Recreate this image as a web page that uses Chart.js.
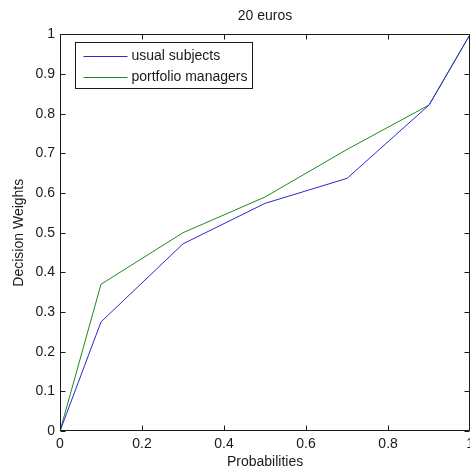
<!DOCTYPE html>
<html>
<head>
<meta charset="utf-8">
<script src="https://cdn.jsdelivr.net/npm/chart.js@4/dist/chart.umd.min.js"></script>
<style>
  html, body { margin: 0; padding: 0; background: #fff; overflow: hidden; }
  #wrap { width: 479px; height: 473px; }
</style>
</head>
<body>
<div id="wrap"><canvas id="weightsChart"></canvas></div>
<script>
// decision weights, 20 euros
const probabilities = [0, 0.1, 0.3, 0.5, 0.7, 0.9, 1];
const usualSubjects = [0, 0.275, 0.472, 0.574, 0.637, 0.822, 1];
const portfolioManagers = [0, 0.37, 0.5, 0.59, 0.71, 0.822, 1];
const seriesLabels = ['usual subjects', 'portfolio managers'];
const xTicks = [0, 0.2, 0.4, 0.6, 0.8, 1];
const yTicks = [0, 0.1, 0.2, 0.3, 0.4, 0.5, 0.6, 0.7, 0.8, 0.9, 1];

const FONT = 'Liberation Sans, Arial, sans-serif';
const INK = '#1a1a1a';

function points(ys) {
    return probabilities.map(function (p, i) { return { x: p, y: ys[i] }; });
}

// box, inward ticks on all four sides, legend inside the axes
const matlabAxes = {
    id: 'matlabAxes',
    afterDraw: function (chart) {
        const c = chart.ctx;
        const a = chart.chartArea;
        const L = Math.round(a.left) + 0.5, R = Math.round(a.right) - 0.5;
        const T = Math.round(a.top) + 0.5, B = Math.round(a.bottom) - 0.5;
        const tl = 5;
        c.save();
        c.strokeStyle = INK;
        c.lineWidth = 1;
        c.beginPath();
        c.rect(L, T, R - L, B - T);
        xTicks.forEach(function (v) {
            const px = Math.round(chart.scales.x.getPixelForValue(v)) + 0.5;
            c.moveTo(px, B); c.lineTo(px, B - tl);
            c.moveTo(px, T); c.lineTo(px, T + tl);
        });
        yTicks.forEach(function (v) {
            const py = Math.round(chart.scales.y.getPixelForValue(v)) + 0.5;
            c.moveTo(L, py); c.lineTo(L + tl, py);
            c.moveTo(R, py); c.lineTo(R - tl, py);
        });
        c.stroke();

        // legend
        const bx = 75.5, by = 42.5, bw = 177, bh = 46;
        c.fillStyle = '#fff';
        c.fillRect(bx, by, bw, bh);
        c.strokeRect(bx, by, bw, bh);
        c.font = '14px ' + FONT;
        c.textBaseline = 'middle';
        chart.data.datasets.forEach(function (ds, i) {
            const ly = Math.round(by + 13 + i * 21) + 0.5;
            c.strokeStyle = ds.borderColor;
            c.beginPath();
            c.moveTo(bx + 8, ly); c.lineTo(bx + 52, ly);
            c.stroke();
            c.fillStyle = INK;
            c.fillText(ds.label, bx + 56, ly);
        });
        c.restore();
    }
};

document.addEventListener('DOMContentLoaded', function () {
    const ctx = document.getElementById('weightsChart').getContext('2d');
    new Chart(ctx, {
        type: 'line',
        data: {
            datasets: [{
                label: seriesLabels[0],
                data: points(usualSubjects),
                borderColor: '#2a2ad0',
                borderWidth: 1,
                pointRadius: 0,
                tension: 0,
                fill: false
            }, {
                label: seriesLabels[1],
                data: points(portfolioManagers),
                borderColor: '#1f8a1f',
                borderWidth: 1,
                pointRadius: 0,
                tension: 0,
                fill: false
            }]
        },
        options: {
            responsive: true,
            maintainAspectRatio: false,
            animation: false,
            devicePixelRatio: 1,
            layout: { padding: 0 },
            plugins: {
                legend: { display: false },
                tooltip: { enabled: false },
                title: {
                    display: true,
                    fullSize: false,
                    text: '20 euros',
                    color: INK,
                    font: { family: FONT, size: 14, weight: 'normal' },
                    padding: { top: 8, bottom: 9.6 }
                }
            },
            scales: {
                x: {
                    type: 'linear',
                    min: 0,
                    max: 1,
                    afterBuildTicks: function (s) { s.ticks = xTicks.map(function (v) { return { value: v }; }); },
                    afterFit: function (s) { s.height = 42; },
                    grid: { display: false, drawTicks: false },
                    border: { display: false },
                    ticks: {
                        color: INK,
                        padding: 5,
                        maxRotation: 0,
                        font: { family: FONT, size: 14 },
                        callback: function (v) { return String(Math.round(v * 10) / 10); }
                    },
                    title: {
                        display: true,
                        text: 'Probabilities',
                        color: INK,
                        font: { family: FONT, size: 14 },
                        padding: { top: 0, bottom: 2 }
                    }
                },
                y: {
                    min: 0,
                    max: 1,
                    afterBuildTicks: function (s) { s.ticks = yTicks.map(function (v) { return { value: v }; }); },
                    afterFit: function (s) { s.width = 60; },
                    grid: { display: false, drawTicks: false },
                    border: { display: false },
                    ticks: {
                        color: INK,
                        padding: 5,
                        font: { family: FONT, size: 14 },
                        callback: function (v) { return String(Math.round(v * 10) / 10); }
                    },
                    title: {
                        display: true,
                        text: 'Decision Weights',
                        color: INK,
                        font: { family: FONT, size: 14 },
                        padding: { top: 11, bottom: 0 }
                    }
                }
            }
        },
        plugins: [matlabAxes]
    });
});
</script>
</body>
</html>
